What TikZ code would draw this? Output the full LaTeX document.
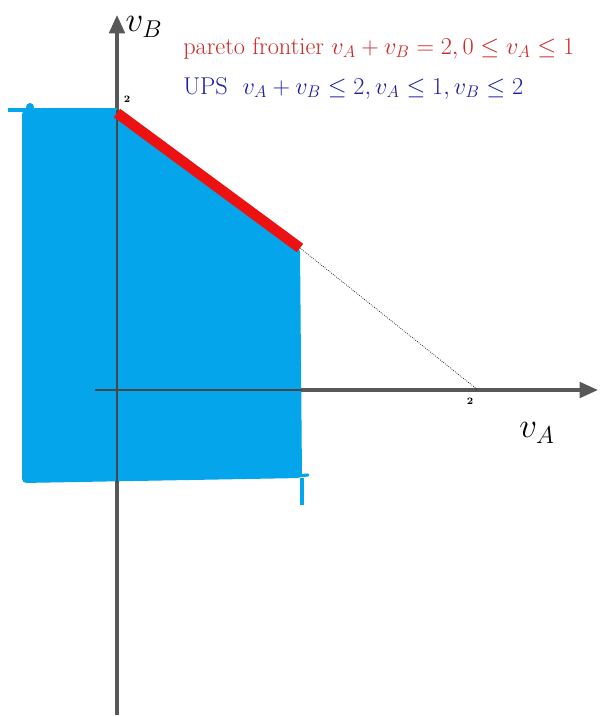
\documentclass[tikz,border=0pt]{standalone}
\usepackage{amsmath,amssymb}
\usepackage{tikz}
\usetikzlibrary{positioning,arrows.meta}
\definecolor{axisgray}{RGB}{88, 88, 88}
\definecolor{upsblue}{RGB}{5, 165, 235}
\definecolor{paretored}{RGB}{236, 18, 18}
\definecolor{textred}{RGB}{205, 40, 40}
\definecolor{textblue}{RGB}{30, 30, 165}

\begin{document}
\begin{tikzpicture}[x=0.025cm, y=-0.025cm,
        axis line/.style={draw=axisgray, line width=2.4pt, -{Triangle[length=13pt, width=11pt]}},
        thin axis/.style={draw=axisgray!80!black, line width=0.8pt},
        tick label/.style={font=\scriptsize\bfseries, inner sep=1pt},
        axis label/.style={font=\fontsize{23}{25}\selectfont, inner sep=0pt},
        legend text/.style={font=\fontsize{17.3}{20}\selectfont, anchor=west, inner sep=0pt}]

    \useasboundingbox (0,0) rectangle (613,717);

    % Points of the utility set
    \coordinate (o) at (117,390);
    \coordinate (b2) at (117,113);
    \coordinate (knee) at (300,248);
    \coordinate (a2) at (478,390);

    % Axes
    \coordinate (xstart) at (95,390);
    \coordinate (xend) at (598,390);
    \coordinate (ystart) at (117,715);
    \coordinate (yend) at (117,15);
    \path[axis line] (xstart) -- (xend);
    \path[axis line] (ystart) -- (yend);

    % Utility possibility set
    \fill[upsblue, rounded corners=3pt] (22,110) -- (117,110) -- (knee) -- (302,478) -- (22,483) -- cycle;
    \draw[upsblue, line width=2.2pt] (8,110) -- (117,110);
    \fill[upsblue] (30,107) circle (4);
    \draw[upsblue, line width=2.2pt, line cap=round] (296,476) -- (308,475);
    \draw[upsblue, line width=2.2pt] (302,478) -- (302,505);

    % Axes inside the set
    \path[thin axis] (xstart) -- (302,390);
    \path[thin axis] (117,110) -- (117,483);

    % Pareto frontier and the rest of the line
    \path (b2) edge[paretored, line width=7.5pt] (knee);
    \path (knee) edge[black, densely dotted, line width=0.5pt] (a2);

    % Labels
    \node[tick label] (b2lab) at (127,99) {2};
    \node[tick label] (a2lab) at (470,401) {2};
    \node[axis label] (vb) at (144,27) {$v_{B}$};
    \node[axis label] (va) at (537,433) {$v_{A}$};
    \node[legend text, text=textred] (pareto) at (183,48) {pareto frontier $v_{A}+v_{B}=2, 0\leq v_{A}\leq 1$};
    \node[legend text, text=textblue] (ups) at (183,88) {UPS\ \ $v_{A}+v_{B}\leq 2, v_{A}\leq 1, v_{B}\leq 2$};

\end{tikzpicture}
\end{document}
